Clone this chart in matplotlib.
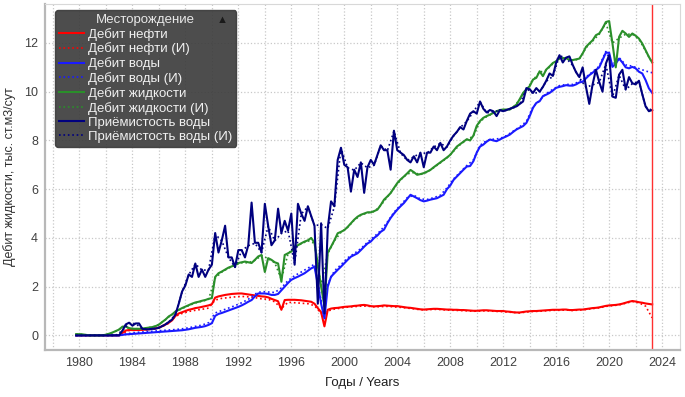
import numpy as np
import matplotlib
matplotlib.use("Agg")
import matplotlib.pyplot as plt
from matplotlib.ticker import MultipleLocator

plt.rcParams['font.family'] = ['Liberation Sans', 'DejaVu Sans']

# квартальная сетка (1979.75 ... 2023.25), 175 точек
years_q = np.linspace(1979.75, 2023.25, 175)
# полугодовая сетка для расчётных (И) кривых, 88 точек
years_h = np.linspace(1979.75, 2023.25, 88)

# Дебит нефти
oil = [0.0,
    0, 0, 0, 0,  0, 0, 0, 0,  0, 0, 0, 0,
    0, 0.1, 0.2, 0.22,  0.22, 0.22, 0.22, 0.23,  0.24, 0.25, 0.27, 0.29,
    0.31, 0.38, 0.45, 0.52,  0.62, 0.8, 0.9, 0.95,  1.0, 1.05, 1.08, 1.12,
    1.14, 1.17, 1.2, 1.23,  1.28, 1.55, 1.6, 1.63,  1.66, 1.68, 1.7, 1.71,
    1.72, 1.72, 1.7, 1.68,  1.66, 1.64, 1.62, 1.6,  1.59, 1.56, 1.5, 1.45,
    1.4, 1.05, 1.45, 1.46,  1.46, 1.46, 1.45, 1.44,  1.42, 1.4, 1.38, 1.3,
    1.12, 0.95, 0.37, 1.05,  1.1, 1.12, 1.13, 1.15,  1.17, 1.18, 1.19, 1.21,
    1.22, 1.24, 1.25, 1.23,  1.2, 1.19, 1.2, 1.21,  1.23, 1.22, 1.21, 1.2,
    1.2, 1.18, 1.16, 1.14,  1.13, 1.11, 1.09, 1.07,  1.06, 1.07, 1.08, 1.09,
    1.09, 1.08, 1.07, 1.06,  1.06, 1.05, 1.05, 1.04,  1.04, 1.03, 1.02, 1.01,
    1.01, 1.02, 1.03, 1.03,  1.02, 1.01, 1.0, 1.0,  1.0, 0.98, 0.97, 0.95,
    0.94, 0.94, 0.96, 0.98,  0.99, 1.0, 1.0, 1.01,  1.02, 1.03, 1.04, 1.05,
    1.05, 1.05, 1.06, 1.06,  1.04, 1.04, 1.05, 1.06,  1.06, 1.08, 1.1, 1.12,
    1.13, 1.15, 1.18, 1.21,  1.23, 1.24, 1.25, 1.27,  1.3, 1.34, 1.38, 1.41,
    1.39, 1.36, 1.34, 1.31,  1.29, 1.27]

oil_i = [0.0,
    0, 0, 0, 0, 0, 0,  0.08, 0.2,  0.21, 0.22,  0.24, 0.28,  0.36, 0.5,
    0.78, 0.9,  0.98, 1.03,  1.07, 1.12,  1.45, 1.52,  1.55, 1.58,
    1.6, 1.58,  1.55, 1.5,  1.48, 1.38,  1.1, 1.36,  1.34, 1.32,
    1.3, 1.22,  0.9, 1.0,  1.08, 1.12,  1.16, 1.18,  1.2, 1.2,
    1.17, 1.18,  1.19, 1.17,  1.15, 1.12,  1.09, 1.05,  1.05, 1.07,
    1.06, 1.04,  1.03, 1.02,  1.01, 0.99,  1.0, 1.01,  0.99, 0.98,
    0.96, 0.94,  0.92, 0.96,  0.98, 0.99,  1.01, 1.03,  1.03, 1.04,
    1.02, 1.04,  1.06, 1.1,  1.13, 1.19,  1.22, 1.25,  1.32, 1.39,
    1.34, 1.2,  0.72]

# Дебит воды
water = [0.0,
    0, 0, 0, 0,  0, 0, 0, 0,  0, 0, 0, 0,
    0, 0.02, 0.04, 0.05,  0.06, 0.07, 0.08, 0.09,  0.1, 0.11, 0.12, 0.13,
    0.14, 0.15, 0.16, 0.17,  0.18, 0.19, 0.2, 0.21,  0.23, 0.25, 0.28, 0.31,
    0.33, 0.35, 0.38, 0.43,  0.5, 0.8, 0.88, 0.92,  0.97, 1.02, 1.07, 1.12,
    1.17, 1.23, 1.3, 1.38,  1.45, 1.6, 1.72, 1.72,  1.72, 1.7, 1.66, 1.66,
    1.7, 1.85, 2.0, 2.15,  2.28, 2.35, 2.41, 2.48,  2.55, 2.65, 2.75, 2.82,
    2.1, 1.3, 0.7, 2.0,  2.41, 2.55, 2.69, 2.82,  2.96, 3.1, 3.23, 3.3,
    3.37, 3.5, 3.64, 3.77,  3.85, 4.0, 4.1, 4.25,  4.34, 4.6, 4.82, 5.0,
    5.16, 5.3, 5.43, 5.6,  5.77, 5.7, 5.63, 5.55,  5.5, 5.53, 5.57, 5.6,
    5.63, 5.7, 5.77, 6.0,  6.15, 6.38, 6.52, 6.66,  6.8, 6.93, 6.95, 7.15,
    7.5, 7.75, 7.83, 7.95,  8.04, 8.0, 7.97, 8.04,  8.11, 8.17, 8.24, 8.35,
    8.45, 8.52, 8.59, 8.72,  9.0, 9.34, 9.54, 9.61,  9.82, 9.88, 9.95, 10.05,
    10.16, 10.2, 10.23, 10.27,  10.25, 10.25, 10.3, 10.38,  10.41, 10.55, 10.68, 10.78,
    10.89, 11.0, 11.3, 11.6,  11.6, 11.02, 11.16, 11.36,  11.2, 11.0, 10.96, 11.02,
    10.96, 10.82, 10.75, 10.48,  10.14, 9.95]

water_i = [0.0,
    0, 0, 0, 0, 0, 0,  0.03, 0.08,  0.12, 0.14,  0.16, 0.18,  0.2, 0.22,
    0.24, 0.27,  0.31, 0.37,  0.42, 0.52,  0.92, 1.02,  1.12, 1.22,
    1.34, 1.48,  1.7, 1.8,  1.78, 1.76,  1.95, 2.25,  2.45, 2.6,
    2.76, 2.92,  1.4, 2.1,  2.65, 2.9,  3.18, 3.36,  3.56, 3.82,
    4.05, 4.3,  4.65, 5.05,  5.35, 5.65,  5.75, 5.6,  5.58, 5.65,
    5.75, 6.05,  6.42, 6.7,  6.97, 7.2,  7.8, 8.0,  8.05, 8.08,
    8.2, 8.38,  8.56, 8.78,  9.38, 9.65,  9.92, 10.1,  10.25, 10.3,
    10.3, 10.42,  10.6, 10.82,  11.05, 11.65,  11.1, 11.4,  11.1, 11.05,
    10.95, 10.85,  10.78]

# Дебит жидкости
liquid = [0.05,
    0.05, 0.04, 0.02, 0.0,  0.0, 0.0, 0.0, 0.0,  0.03, 0.07, 0.12, 0.18,
    0.24, 0.36, 0.36, 0.3,  0.27, 0.27, 0.27, 0.28,  0.3, 0.32, 0.34, 0.38,
    0.44, 0.55, 0.65, 0.78,  0.86, 0.98, 1.05, 1.12,  1.18, 1.24, 1.3, 1.35,
    1.38, 1.42, 1.45, 1.5,  1.53, 2.4, 2.55, 2.62,  2.7, 2.78, 2.83, 2.9,
    2.97, 3.0, 3.03, 3.0,  2.97, 3.1, 3.24, 3.3,  2.6, 3.17, 3.1, 3.0,
    2.95, 2.2, 3.3, 3.37,  3.44, 3.64, 3.7, 3.78,  3.85, 3.9, 4.0, 3.8,
    2.9, 2.0, 1.2, 3.4,  3.64, 3.9, 4.19, 4.25,  4.32, 4.45, 4.6, 4.75,
    4.87, 4.95, 5.0, 5.05,  5.05, 5.1, 5.16, 5.35,  5.57, 5.7, 5.84, 6.05,
    6.25, 6.4, 6.52, 6.65,  6.79, 6.7, 6.59, 6.62,  6.66, 6.72, 6.79, 6.9,
    7.0, 7.1, 7.2, 7.3,  7.41, 7.58, 7.75, 7.85,  7.95, 8.05, 8.0, 8.2,
    8.6, 8.8, 8.93, 9.0,  9.06, 9.13, 9.2, 9.25,  9.27, 9.27, 9.27, 9.37,
    9.47, 9.7, 9.95, 10.1,  10.23, 10.5, 10.57, 10.84,  10.64, 10.91, 11.04, 11.18,
    11.25, 11.38, 11.38, 11.38,  11.3, 11.3, 11.33, 11.36,  11.57, 11.84, 11.98, 12.11,
    12.32, 12.39, 12.6, 12.86,  12.9, 11.98, 11.0, 12.25,  12.5, 12.39, 12.25, 12.39,
    12.3, 12.18, 11.98, 11.7,  11.43, 11.2]

liquid_i = [0.05,
    0.04, 0.0,  0.0, 0.0,  0.06, 0.17,  0.34, 0.3,  0.27, 0.28,  0.32, 0.37,
    0.54, 0.76,  0.96, 1.1,  1.22, 1.33,  1.4, 1.48,  2.35, 2.6,  2.76, 2.88,
    2.98, 2.98,  3.08, 3.28,  3.15, 2.98,  2.3, 3.35,  3.62, 3.76,
    3.88, 3.78,  2.05, 3.35,  3.88, 4.23,  4.43, 4.73,  4.93, 5.03,
    5.08, 5.33,  5.68, 6.03,  6.38, 6.63,  6.68, 6.6,  6.7, 6.88,
    7.08, 7.28,  7.56, 7.83,  8.03, 8.18,  8.78, 8.98,  9.11, 9.23,
    9.25, 9.35,  9.68, 10.08,  10.48, 10.8,  10.88, 11.15,  11.35, 11.36,
    11.28, 11.34,  11.8, 12.08,  12.36, 12.82,  12.0, 12.2,  12.36, 12.36,
    12.15, 11.68,  11.18]

# Приёмистость воды
inj = [0.0,
    0, 0, 0, 0,  0, 0, 0, 0,  0, 0, 0, 0,
    0, 0.2, 0.45, 0.52,  0.4, 0.49, 0.49, 0.27,  0.25, 0.25, 0.27, 0.28,
    0.31, 0.38, 0.45, 0.55,  0.65, 0.86, 1.3, 1.8,  2.05, 2.5, 2.4, 2.95,
    2.4, 2.7, 2.4, 2.7,  2.9, 4.2, 3.4, 3.9,  4.5, 3.2, 3.2, 2.8,
    3.5, 3.5, 3.2, 3.7,  5.45, 3.8, 3.8, 3.4,  5.4, 4.5, 3.7, 3.9,
    5.2, 4.2, 4.7, 4.3,  5.0, 2.9, 5.4, 5.0,  4.7, 5.3, 4.9, 4.5,
    1.3, 4.6, 0.9, 4.4,  5.5, 5.3, 7.2, 7.7,  7.0, 6.9, 5.9, 6.8,
    6.5, 7.1, 5.85, 6.9,  7.2, 7.0, 7.4, 7.8,  7.6, 7.6, 6.8, 8.4,
    7.6, 7.5, 7.4, 7.2,  7.1, 7.35, 7.1, 7.5,  6.9, 7.5, 7.5, 7.75,
    7.6, 7.9, 7.6, 7.75,  8.0, 8.2, 8.35, 8.55,  8.45, 8.8, 9.1, 9.2,
    9.1, 9.6, 9.3, 9.15,  9.25, 9.2, 9.0, 9.25,  9.2, 9.25, 9.3, 9.35,
    9.4, 9.5, 9.6, 10.15,  10.1, 9.95, 10.15, 10.0,  10.2, 10.45, 10.75, 10.65,
    11.2, 11.5, 11.2, 11.4,  11.45, 11.1, 10.8, 10.6,  11.0, 10.2, 9.5, 10.3,
    10.9, 10.4, 10.0, 11.15,  11.5, 9.8, 9.75, 10.7,  10.9, 10.1, 10.6, 10.35,
    10.3, 10.45, 9.9, 9.4,  9.2, 9.25]

inj_i = [0.0,
    0, 0, 0, 0, 0, 0,  0.2, 0.5,  0.48, 0.27,  0.25, 0.28,  0.38, 0.55,
    0.85, 1.78,  2.48, 2.93,  2.68, 2.68,  4.15, 3.88,  3.2, 2.8,
    3.48, 3.68,  3.78, 3.4,  4.48, 3.88,  4.18, 4.3,  2.95, 4.98,
    5.28, 4.5,  4.55, 4.38,  5.28, 7.68,  6.88, 6.78,  7.08, 6.88,
    6.98, 7.78,  7.58, 8.38,  7.48, 7.18,  7.33, 7.48,  7.48, 7.73,
    7.88, 7.73,  8.18, 8.53,  8.78, 9.18,  9.58, 9.13,  9.18, 9.23,
    9.23, 9.33,  9.48, 10.13,  9.93, 9.98,  10.43, 10.63,  11.48, 11.38,
    11.08, 10.58,  10.18, 10.28,  10.38, 11.13,  9.78, 10.68,  10.08, 10.33,
    10.43, 9.38,  9.23]

labels = ['Дебит нефти', 'Дебит нефти (И)', 'Дебит воды', 'Дебит воды (И)',
          'Дебит жидкости', 'Дебит жидкости (И)', 'Приёмистость воды',
          'Приёмистость воды (И)']
colors = ['#ff0000', '#ff0000', '#1a1aff', '#1a1aff',
          '#2a8f2a', '#2a8f2a', '#00007f', '#00007f']
current_date = 2023.25

fig = plt.figure(figsize=(6.85, 3.97), dpi=100)
ax = fig.add_axes([0.0657, 0.1184, 0.927, 0.8715])

series = [(years_q, oil), (years_h, oil_i), (years_q, water), (years_h, water_i),
          (years_q, liquid), (years_h, liquid_i), (years_q, inj), (years_h, inj_i)]
for i, (xs, ys) in enumerate(series):
    if i % 2 == 0:
        ax.plot(xs, ys, color=colors[i], lw=1.5, label=labels[i])
    else:
        ax.plot(xs, ys, color=colors[i], lw=1.2, ls=':', label=labels[i])

ax.axvline(current_date, color='#ff3030', lw=1)

ax.set_xlim(1977.4, 2025.35)
ax.set_ylim(-0.6, 13.6)
ax.xaxis.set_major_locator(MultipleLocator(4))
ax.xaxis.set_minor_locator(MultipleLocator(2))
ax.yaxis.set_major_locator(MultipleLocator(2))
ax.grid(which='both', axis='x', color='#c8c8c8', ls=':', lw=0.9)
ax.grid(which='major', axis='y', color='#c8c8c8', ls=':', lw=0.9)
ax.tick_params(which='both', length=0, labelsize=9, labelcolor='#404040', pad=5)

for s in ['left', 'bottom']:
    ax.spines[s].set_color('#b8b8b8')
    ax.spines[s].set_linewidth(1.6)
for s in ['top', 'right']:
    ax.spines[s].set_color('#d8d8d8')

ax.set_xlabel('Годы / Years', fontsize=9.5, color='#202020', labelpad=6)
ax.set_ylabel('Дебит жидкости, тыс. ст.м3/сут', fontsize=9, color='#303030', labelpad=6)

leg = ax.legend(title='Месторождение', loc='upper left', bbox_to_anchor=(0.0157, 0.983),
                borderaxespad=0, fontsize=9.5, title_fontsize=9.5, labelspacing=0.14,
                handlelength=1.9, handletextpad=0.3, borderpad=0.3,
                facecolor='#3a3a3a', edgecolor='#3a3a3a', framealpha=0.9,
                labelcolor='#f0f0f0', fancybox=True)
leg.get_title().set_color('#e8e8e8')
ax.text(0.279, 0.955, '▲', transform=ax.transAxes, fontsize=8, color='#1a1a1a',
        ha='center', va='center', zorder=10)

fig.savefig('out.png', dpi=100)
